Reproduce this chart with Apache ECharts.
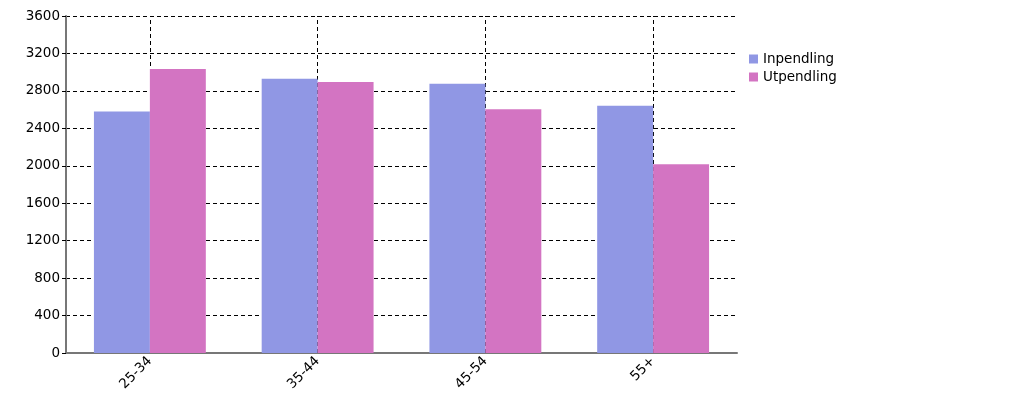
<!DOCTYPE html>
<html><head><meta charset="utf-8">
<script src="https://cdn.jsdelivr.net/npm/echarts@6/dist/echarts.min.js"></script>
<style>html,body{margin:0;padding:0;background:#fff}#c{width:1024px;height:410px}</style>
</head><body><div id="c"></div>
<script>
const categories = ['25-34', '35-44', '45-54', '55+'];
const inpendling = [2580, 2930, 2875, 2640];
const utpendling = [3035, 2895, 2605, 2015];
const yTicks = { min: 0, max: 3600, interval: 400 };

const chart = echarts.init(document.getElementById('c'));
const font = 'DejaVu Sans';
chart.setOption({
  animation: false,
  textStyle: { fontFamily: font },
  grid: { left: 66, right: 287, top: 16, bottom: 57 },
  legend: {
    orient: 'vertical', left: 744, top: 47,
    itemWidth: 9, itemHeight: 9, itemGap: 4,
    icon: 'rect',
    textStyle: { fontFamily: font, fontSize: 13.5, color: '#000' },
    data: ['Inpendling', 'Utpendling']
  },
  xAxis: {
    type: 'category', data: categories,
    axisLine: { lineStyle: { color: '#777', width: 2 } },
    axisTick: { alignWithLabel: true, length: 6, lineStyle: { color: '#000', type: 'dashed', width: 1 } },
    axisLabel: { rotate: 45, fontFamily: font, fontSize: 13.5, color: '#000', margin: 6 },
    splitLine: { show: false }
  },
  yAxis: {
    type: 'value', min: yTicks.min, max: yTicks.max, interval: yTicks.interval,
    axisLine: { show: true, lineStyle: { color: '#777', width: 2 } },
    axisTick: { show: true, length: 4, lineStyle: { color: '#000' } },
    axisLabel: { fontFamily: font, fontSize: 13.5, color: '#000', margin: 6, formatter: v => String(v) },
    splitLine: { lineStyle: { color: '#000', type: [4, 3], width: 1 } }
  },
  series: [
    {
      name: 'Inpendling', type: 'bar', data: inpendling,
      barGap: '0%', barCategoryGap: '33.3%',
      itemStyle: { color: '#9097E4' },
      z: 3
    },
    {
      name: 'Utpendling', type: 'bar', data: utpendling,
      barGap: '0%', barCategoryGap: '33.3%',
      itemStyle: { color: '#D374C2', borderColor: '#EBD3EC', borderWidth: 0 },
      z: 3
    },
    {
      name: 'vgrid', type: 'line', data: [],
      symbol: 'none', silent: true, z: 1,
      markLine: {
        silent: true, symbol: 'none', label: { show: false }, z: 1,
        lineStyle: { color: '#000', type: [4, 3], width: 1 },
        data: categories.map(c => ({ xAxis: c }))
      }
    }
  ]
});
</script></body></html>
